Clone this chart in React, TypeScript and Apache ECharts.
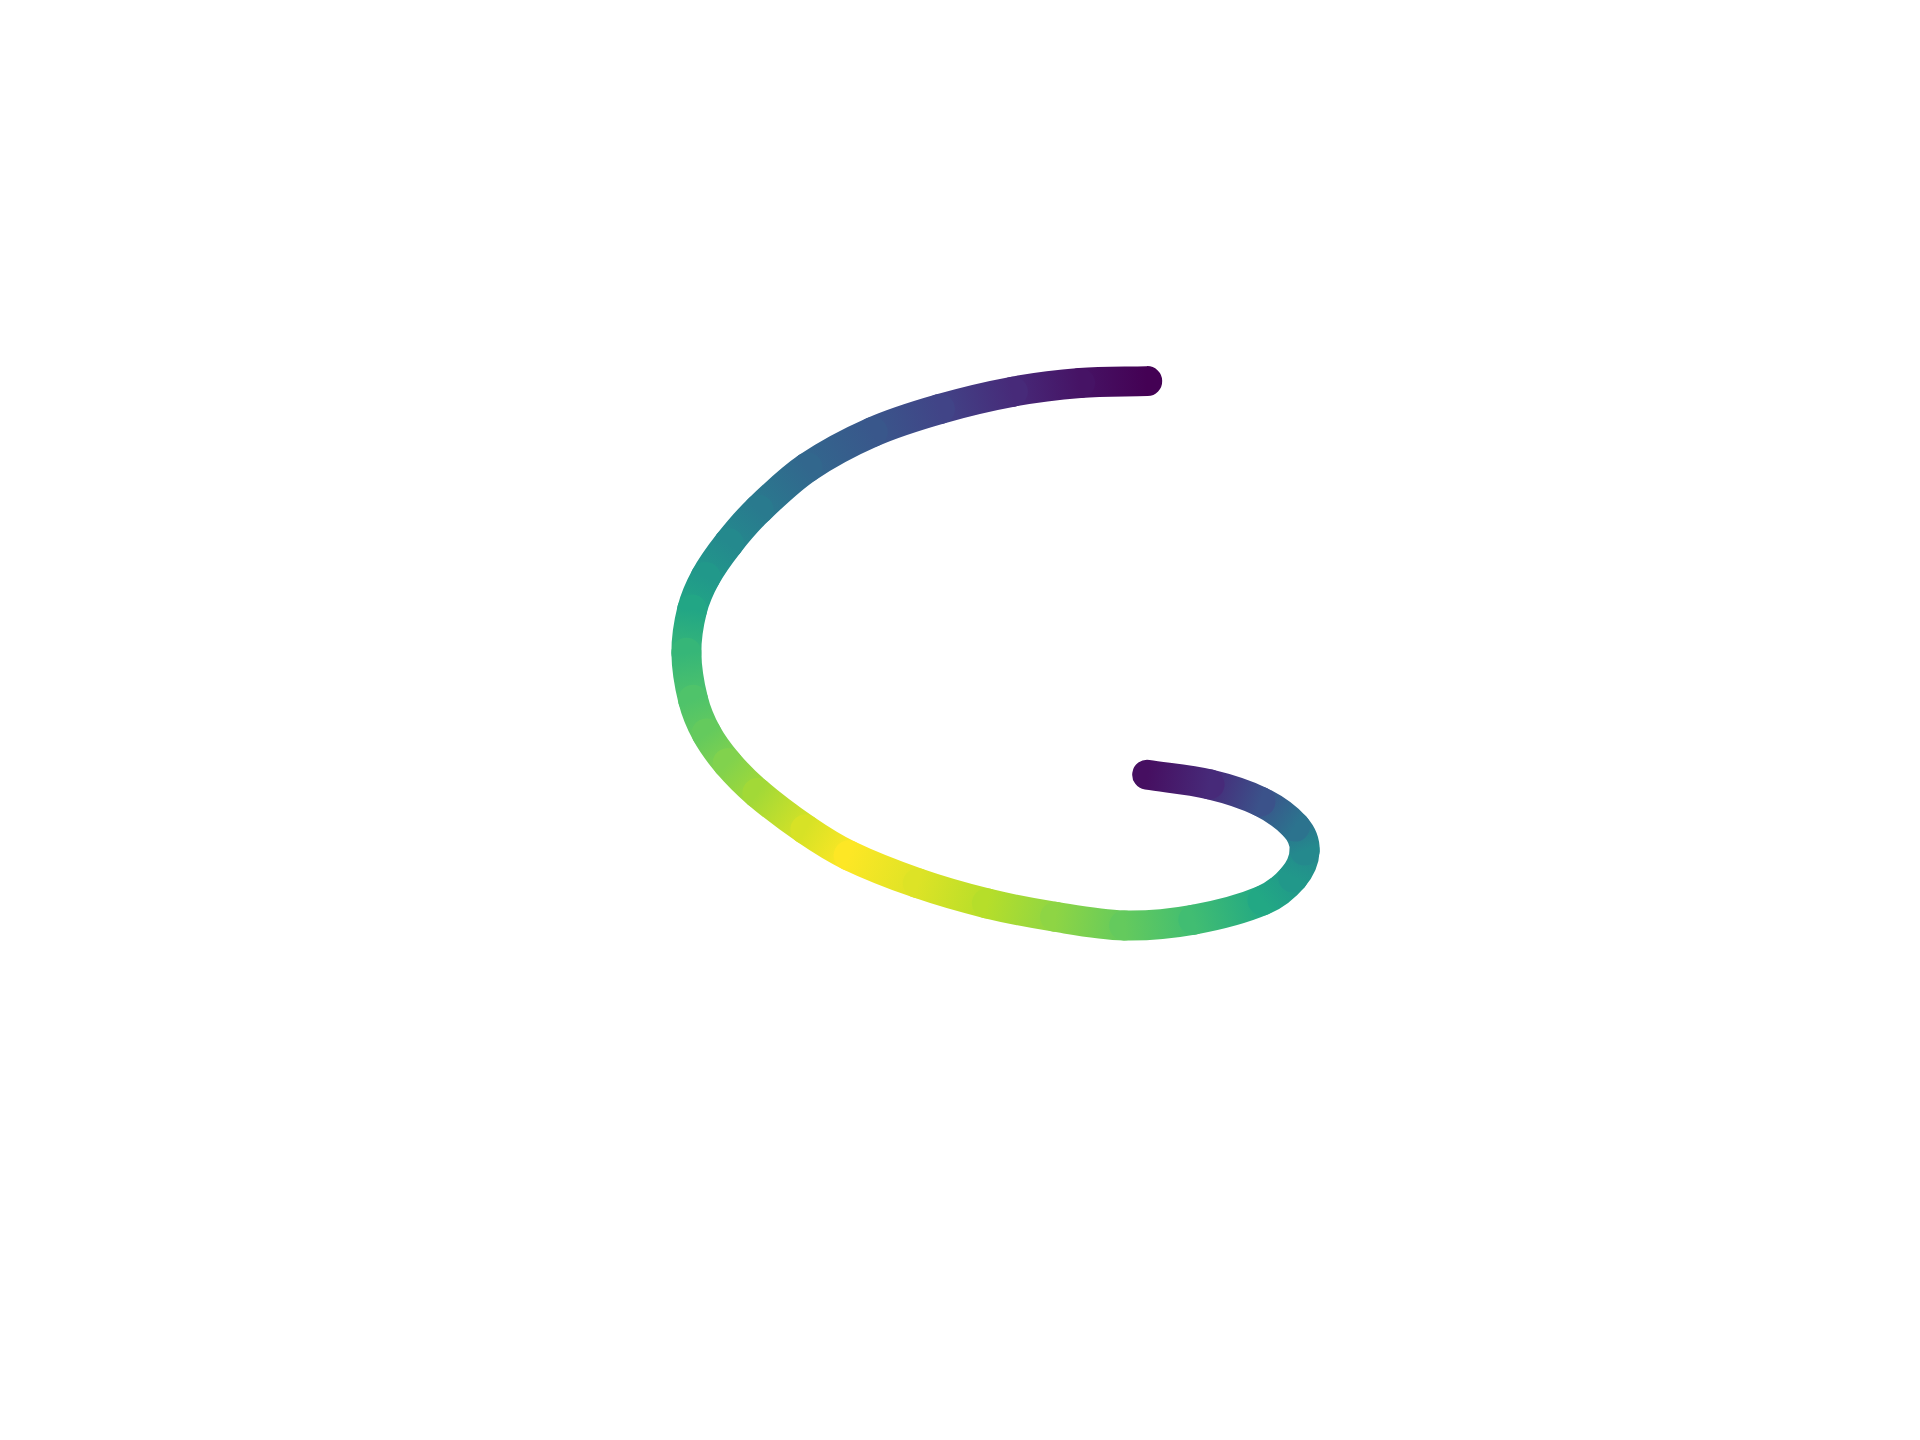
import { useEffect, useRef } from 'react';
import * as echarts from 'echarts';

// points along the curve, start (top) to end (inner hook)
const xValues = [
  1.95, 1.25, 0.55, -0.21, -0.91, -1.59, -2.1, -2.41, -2.65, -2.79, -2.85, -2.78, -2.64, -2.42,
  -2.11, -1.61, -1.16, -0.44, 0.28, 0.99, 1.71, 2.43, 3.15, 3.47, 3.59, 3.49, 3.13, 2.6, 1.95,
];
const yValues = [
  3.53, 3.51, 3.42, 3.24, 3.0, 2.63, 2.19, 1.84, 1.49, 1.15, 0.7, 0.21, -0.14, -0.45, -0.76,
  -1.14, -1.41, -1.7, -1.91, -2.05, -2.14, -2.08, -1.88, -1.64, -1.36, -1.11, -0.85, -0.67, -0.57,
];
// colour value of each point (0 = purple, 1 = yellow)
const colorValues = [
  0.0, 0.05, 0.12, 0.2, 0.27, 0.33, 0.41, 0.47, 0.53, 0.59, 0.66, 0.72, 0.76, 0.81, 0.86,
  0.94, 1.0, 0.95, 0.89, 0.83, 0.76, 0.69, 0.6, 0.53, 0.47, 0.38, 0.25, 0.12, 0.04,
];

const viridis = [
  '#440154', '#482475', '#414487', '#355f8d', '#2a788e', '#21918c',
  '#22a884', '#44bf70', '#7ad151', '#bddf26', '#fde725',
];

export default function App() {
  const chartRef = useRef<HTMLDivElement>(null);

  useEffect(() => {
    if (!chartRef.current) return;
    document.body.style.margin = '0';
    const chart = echarts.init(chartRef.current, undefined, { renderer: 'svg' });

    const data = xValues.map((x, i) => [x, yValues[i], colorValues[i]]);

    chart.setOption({
      animation: false,
      backgroundColor: '#ffffff',
      grid: { left: 0, right: 0, top: 0, bottom: 0 },
      xAxis: { type: 'value', min: -10, max: 10, show: false },
      yAxis: { type: 'value', min: -7.5, max: 7.5, show: false },
      visualMap: {
        type: 'continuous',
        show: false,
        dimension: 2,
        min: 0,
        max: 1,
        inRange: { color: viridis },
      },
      series: [
        {
          type: 'custom',
          dimensions: ['x', 'y', 'c'],
          encode: { x: 0, y: 1 },
          data,
          renderItem: (params: any, api: any) => {
            const i = params.dataIndexInside;
            const n = params.dataInsideLength;
            if (i >= n - 1) return null;
            const pt = (k: number) => {
              const p = api.coord([api.value(0, k), api.value(1, k)]);
              return [p[0], p[1]];
            };
            const p0 = pt(Math.max(i - 1, 0));
            const p1 = pt(i);
            const p2 = pt(i + 1);
            const p3 = pt(Math.min(i + 2, n - 1));
            // tangents, scaled by the segment's own length
            const d = Math.hypot(p2[0] - p1[0], p2[1] - p1[1]);
            const t1 = [p2[0] - p0[0], p2[1] - p0[1]];
            const t2 = [p3[0] - p1[0], p3[1] - p1[1]];
            const l1 = Math.hypot(t1[0], t1[1]) || 1;
            const l2 = Math.hypot(t2[0], t2[1]) || 1;
            const c1 = api.visual('color', i);
            const c2 = api.visual('color', i + 1);
            return {
              type: 'bezierCurve',
              shape: {
                x1: p1[0],
                y1: p1[1],
                x2: p2[0],
                y2: p2[1],
                cpx1: p1[0] + (t1[0] / l1) * d / 3,
                cpy1: p1[1] + (t1[1] / l1) * d / 3,
                cpx2: p2[0] - (t2[0] / l2) * d / 3,
                cpy2: p2[1] - (t2[1] / l2) * d / 3,
              },
              style: {
                fill: 'none',
                stroke: new echarts.graphic.LinearGradient(
                  p1[0], p1[1], p2[0], p2[1],
                  [
                    { offset: 0, color: c1 },
                    { offset: 1, color: c2 },
                  ],
                  true,
                ),
                lineWidth: 30,
                lineCap: 'round',
              },
            };
          },
        },
      ],
    });

    return () => {
      chart.dispose();
    };
  }, []);

  return <div ref={chartRef} style={{ width: 1920, height: 1440 }} />;
}
